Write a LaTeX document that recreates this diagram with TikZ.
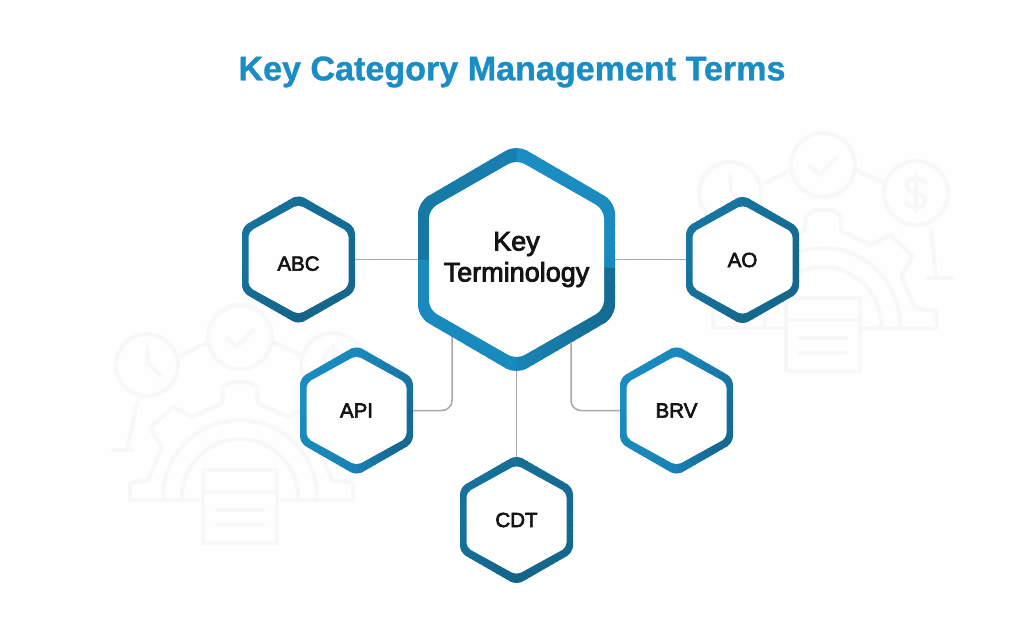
\documentclass[tikz,border=0pt]{standalone}
\usepackage{fontspec}
\setmainfont{Liberation Sans}
\newfontfamily\titlefont[FakeBold=1]{Liberation Sans Bold}
\newfontfamily\lblfont[FakeBold=3]{Liberation Sans}
\definecolor{titleblue}{HTML}{1A8DC4}
\definecolor{ringlight}{HTML}{1A8DC2}
\definecolor{ringdark}{HTML}{125A7A}
\definecolor{wm}{HTML}{F8F8FA}
\definecolor{conn}{HTML}{A8A8AC}
\definecolor{paper}{HTML}{FEFEFE}
\tikzset{
  wmline/.style={draw=wm,line width=4pt,line cap=round,line join=round},
  connector/.style={draw=conn,line width=1.5pt,rounded corners=10pt},
  hexlabel/.style={inner sep=0pt,align=center,text=black!92,font=\lblfont},
}
\newcommand\hexsz[7]{\def\oW{#1}\def\oH{#2}\def\oS{#3}\def\oR{#4}\def\iW{#5}\def\iH{#6}\def\iS{#7}}
\newcommand\hexpath[4]{(0,-#2) -- (#1,-#3) -- (#1,#3) -- (0,#2) -- (-#1,#3) -- (-#1,-#3) -- cycle}
\newcommand\hexnode[6]{%
  \ifnum#4=1 \hexsz{98.5}{115}{57.5}{12}{87.5}{100}{50}\def\iR{9}\def\vis{111.5}\def\fs{27}\def\ls{31}%
  \else \hexsz{56.5}{65}{32.5}{7}{50}{55}{27.5}\def\iR{5}\def\vis{63}\def\fs{20.5}\def\ls{24}\fi
  \begin{scope}[shift={(#2,#3)}]
    \begin{scope}
      \clip[rounded corners=\oR pt] \hexpath{\oW}{\oH}{\oS}{};
      \foreach \a/\b/\p/\q in {#5}{%
        \pgfmathtruncatemacro\m{(\b-\a)/5-1}%
        \foreach \i in {0,...,\m}{%
          \pgfmathsetmacro\t{\a+5*\i}%
          \pgfmathsetmacro\tt{\t+6}%
          \pgfmathsetmacro\mx{\p+(\q-\p)*5*\i/(\b-\a)}%
          \fill[ringdark!\mx!ringlight] (0,0) -- (\t:160) -- (\tt:160) -- cycle;
        }%
      }
    \end{scope}
    \fill[paper,rounded corners=\iR pt] \hexpath{\iW}{\iH}{\iS}{};
  \end{scope}
  \node[hexlabel,minimum width=2*\oW pt,minimum height=2*\vis pt,font=\lblfont\fontsize{\fs}{\ls}\selectfont] (#1) at (#2,#3) {#6};
}
\newcommand\wmicon[2]{%
  \begin{scope}[shift={(#1,#2)}]
    \path[wmline] (-93,28) circle[radius=31];
    \path[wmline] (0,0) circle[radius=32];
    \path[wmline] (93,28) circle[radius=32];
    \path[wmline] (-58,18) -- (-32,5);
    \path[wmline] (35,6) -- (62,18);
    \path[wmline] (-93,10) -- (-92,26) -- (-80,38);
    \path[wmline] (-13,1) -- (-3,10) -- (13,-7);
    \path[wmline] (93,9) -- (93,47);
    \path[wmline] (103,18) .. controls (95,10) and (82,14) .. (84,22) .. controls (86,30) and (101,26) .. (102,35) .. controls (103,43) and (90,45) .. (83,38);
    \path[wmline] (-110,163) -- (-110,146) -- (-92,143) -- (-78,111) -- (-90,91) -- (-67,70) -- (-48,80) -- (-18,66) -- (-17,50) -- (-8,45) -- (8,45) -- (17,50) -- (18,66) -- (48,80) -- (67,70) -- (90,91) -- (78,111) -- (92,143) -- (113,146) -- (113,163) -- (37,163);
    \path[wmline] (-110,163) -- (-37,163);
    \path[wmline] (-77,160) arc[start angle=180,end angle=360,radius=77];
    \path[wmline] (-58,160) arc[start angle=180,end angle=360,radius=58];
    \path[wmline] (-103,66) -- (-113,113);
    \path[wmline] (-127,113) -- (-107,113);
    \path[wmline] (108,65) -- (113,112);
    \path[wmline] (105,113) -- (130,113);
    \fill[paper] (-37,133) rectangle (37,206);
    \path[wmline] (-37,133) rectangle (37,206);
    \path[wmline] (-37,155) -- (37,155);
    \path[wmline] (-23,173) -- (23,173);
    \path[wmline] (-23,188) -- (23,188);
  \end{scope}
}
\begin{document}
\begin{tikzpicture}[x=1pt,y=-1pt]
  \useasboundingbox (0,0) rectangle (1024,627);
  \fill[paper] (0,0) rectangle (1024,627);
  \wmicon{240}{337}
  \wmicon{823}{165}

  \node[text=titleblue,inner sep=0pt,font=\titlefont\fontsize{34.1}{38}\selectfont] (title) at (512,72) {Key Category Management Terms};

  \hexnode{abc}{298.5}{259.5}{0}{0/90/70/80,90/180/80/50,180/270/50/60,270/360/60/70}{\raisebox{-4pt}[0.7em][0pt]{ABC}}
  \hexnode{ao}{742.5}{260}{0}{0/90/75/70,90/180/70/45,180/270/45/50,270/360/50/75}{AO}
  \hexnode{api}{356.5}{410.5}{0}{0/45/65/70,45/90/70/20,90/180/20/0,180/270/0/10,270/360/10/65}{API}
  \hexnode{brv}{676.5}{410.5}{0}{0/45/65/70,45/90/70/20,90/180/20/0,180/270/0/10,270/360/10/65}{BRV}
  \hexnode{cdt}{516.5}{520}{0}{0/90/70/80,90/180/80/50,180/270/50/60,270/360/60/70}{CDT}
  \hexnode{key}{516.5}{259.5}{1}{0/5/5/5,5/30/60/65,30/90/65/15,90/180/5/5,180/270/45/25,270/360/0/5}{Key\\Terminology}

  \coordinate (keyL) at (452,337);
  \coordinate (keyR) at (571,342);
  \draw[connector] (abc.east) -- (key.west);
  \draw[connector] (key.east) -- (key.east -| ao.west);
  \draw[connector] (keyL) |- (api.east);
  \draw[connector] (keyR) |- (brv.west);
  \draw[connector] (key.south) -- (cdt.north);
\end{tikzpicture}
\end{document}
